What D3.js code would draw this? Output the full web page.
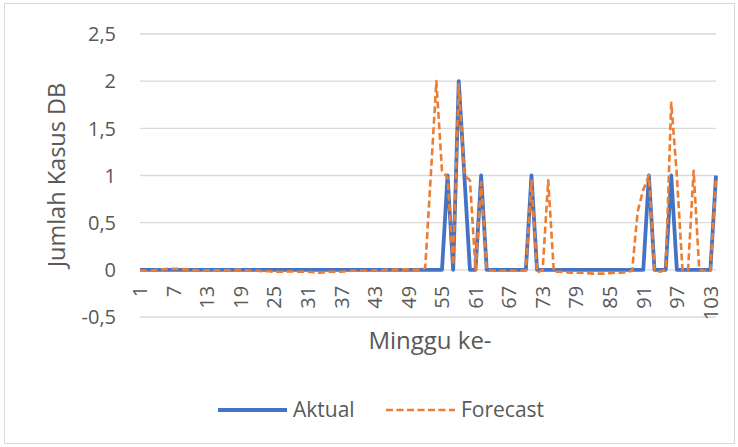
<!DOCTYPE html>
<html><head><meta charset="utf-8">
<script src="https://cdn.jsdelivr.net/npm/d3@7"></script>
<style>body{margin:0;background:#fff}svg{display:block}text{font-family:"Open Sans",sans-serif;fill:#595959}</style>
</head><body><svg id="c" width="738" height="447"></svg>
<script>
const weeks = d3.range(1, 105);
const aktual = [
0,0,0,0,0,0,0,0,0,0, 0,0,0,0,0,0,0,0,0,0, 0,0,0,0,0,0,0,0,0,0,
0,0,0,0,0,0,0,0,0,0, 0,0,0,0,0,0,0,0,0,0, 0,0,0,0,0,1,0,2,1,0,
0,1,0,0,0,0,0,0,0,0, 1,0,0,0,0,0,0,0,0,0, 0,0,0,0,0,0,0,0,0,0,
0,1,0,0,0,1,0,0,0,0, 0,0,0,1];
const forecast = [
-0.01,-0.01,-0.01,0,0.005,0.01,0.01,0.01,0.005,0,
-0.005,-0.01,-0.005,-0.005,-0.005,-0.005,-0.005,0,0,-0.005,
-0.01,-0.01,-0.015,-0.015,-0.02,-0.02,-0.02,-0.015,-0.02,-0.02,
-0.02,-0.025,-0.03,-0.025,-0.02,-0.02,-0.02,-0.015,-0.01,-0.01,
-0.01,-0.01,-0.005,-0.005,0,0,0.005,0.005,0.005,0,
0,0.02,1.0,2.0,1.05,0.98,0.05,1.97,1.0,0.95,
0,0.93,0,-0.01,-0.01,-0.01,-0.01,-0.01,-0.01,-0.005,
0.95,-0.03,0,0.95,-0.02,-0.02,-0.025,-0.03,-0.03,-0.03,
-0.035,-0.04,-0.04,-0.04,-0.035,-0.03,-0.03,-0.025,-0.01,0.62,
0.85,1.0,0,-0.02,0,1.77,1.0,0,0,1.05,
0,-0.01,-0.01,0.98];
const xTicks = [1,7,13,19,25,31,37,43,49,55,61,67,73,79,85,91,97,103];
const yTicks = [-0.5,0,0.5,1,1.5,2,2.5];
const seriesNames = ["Aktual","Forecast"];

const svg = d3.select("#c");
svg.append("rect").attr("x",4.5).attr("y",3.5).attr("width",730).attr("height",440)
  .attr("fill","#fff").attr("stroke","#D9D9D9").attr("stroke-width",1);

const x = d3.scaleLinear().domain([1,104]).range([140,716]);
const y = d3.scaleLinear().domain([-0.5,2.5]).range([317,34]);

svg.append("g").selectAll("line").data(yTicks).join("line")
  .attr("x1",140).attr("x2",716).attr("y1",d=>y(d)).attr("y2",d=>y(d))
  .attr("stroke","#D9D9D9").attr("stroke-width",1.3);

svg.append("g").selectAll("text").data(yTicks).join("text")
  .attr("x",116).attr("y",d=>y(d)).attr("dy","0.36em").attr("text-anchor","end")
  .attr("font-size",20).text(d=>String(d).replace(".",","));

svg.append("g").selectAll("text").data(xTicks).join("text")
  .attr("transform",d=>`translate(${x(d)},${y(0)+16}) rotate(-90)`)
  .attr("dy","0.36em").attr("text-anchor","end").attr("font-size",20).text(d=>d);

const line = d3.line().x((d,i)=>x(weeks[i])).y(d=>y(d));
svg.append("path").datum(aktual).attr("d",line).attr("fill","none")
  .attr("stroke","#4472C4").attr("stroke-width",3.8).attr("stroke-linejoin","round");
svg.append("path").datum(forecast).attr("d",line).attr("fill","none")
  .attr("stroke","#ED7D31").attr("stroke-width",2.6).attr("stroke-dasharray","7,3.5").attr("stroke-linejoin","round");

svg.append("text").attr("transform","translate(65,175) rotate(-90)").attr("text-anchor","middle")
  .attr("font-size",23.5).text("Jumlah Kasus DB");
svg.append("text").attr("x",430).attr("y",349).attr("text-anchor","middle")
  .attr("font-size",24).text("Minggu ke-");

const lg = svg.append("g");
lg.append("line").attr("x1",218).attr("x2",287).attr("y1",410).attr("y2",410)
  .attr("stroke","#4472C4").attr("stroke-width",3.8);
lg.append("text").attr("x",293).attr("y",417).attr("font-size",21).text(seriesNames[0]);
lg.append("line").attr("x1",386).attr("x2",455).attr("y1",410).attr("y2",410)
  .attr("stroke","#ED7D31").attr("stroke-width",2.6).attr("stroke-dasharray","7,3.5");
lg.append("text").attr("x",461).attr("y",417).attr("font-size",21).text(seriesNames[1]);
</script></body></html>
